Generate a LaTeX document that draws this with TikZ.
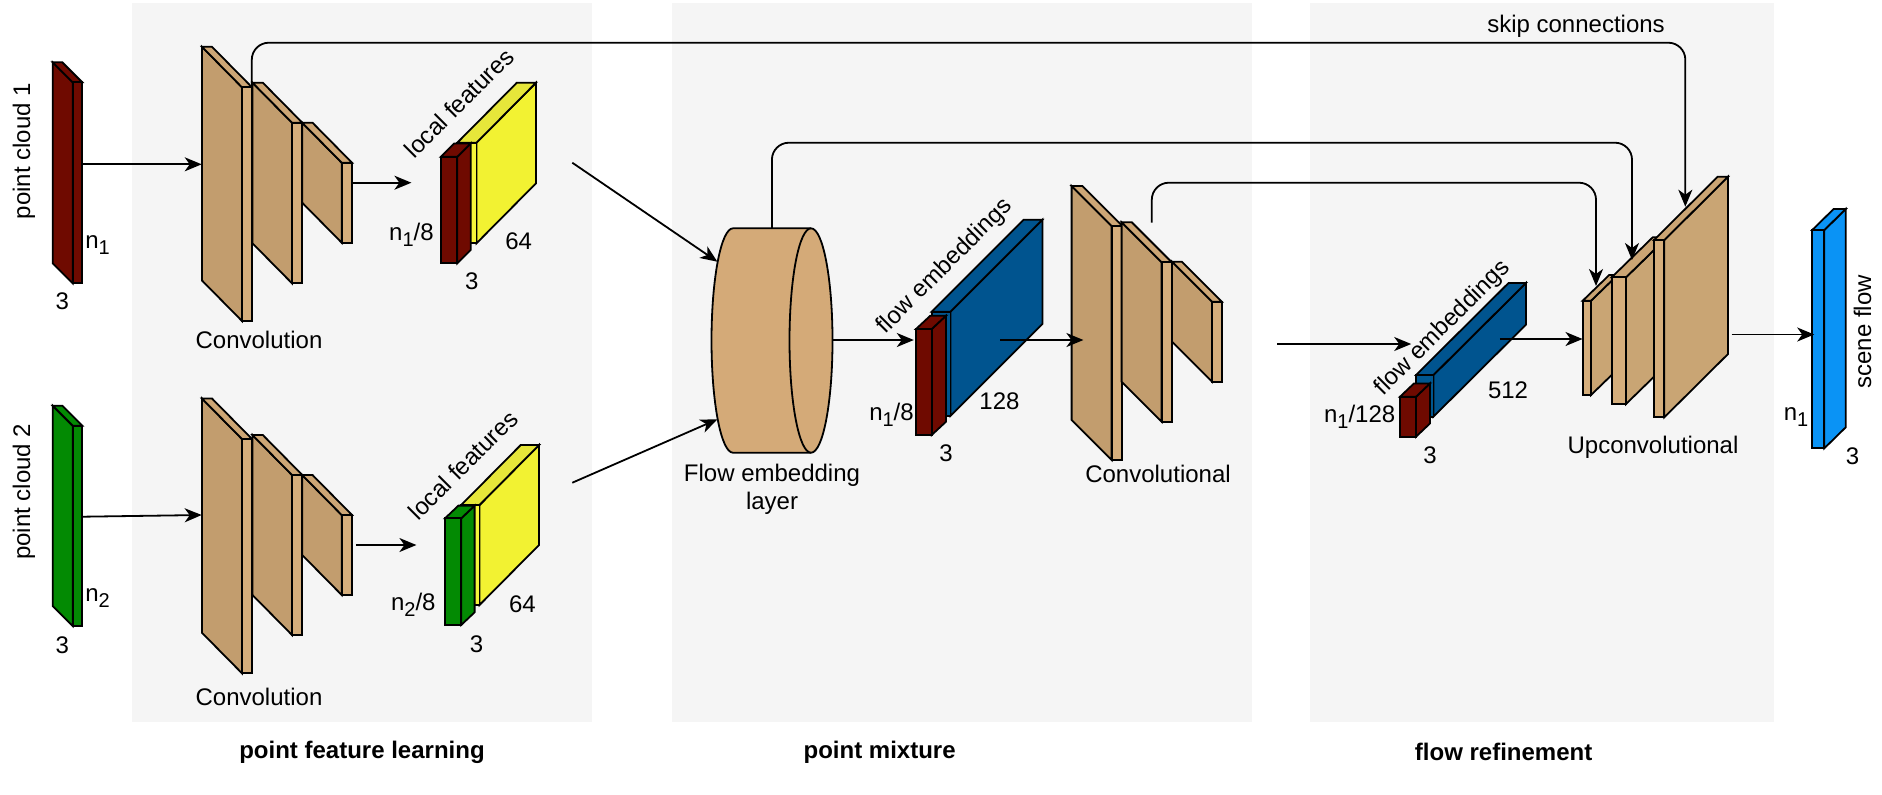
\documentclass[tikz,border=0pt]{standalone}
\usepackage{fontspec}
\setmainfont{Liberation Sans}
\usetikzlibrary{arrows.meta}
\definecolor{panelgray}{HTML}{F5F5F5}
\definecolor{tanF}{HTML}{D5AE7C}
\definecolor{tanS}{HTML}{C29D6E}
\definecolor{tanT}{HTML}{CDA675}
\definecolor{upF}{HTML}{D5AE7C}
\definecolor{upS}{HTML}{C9A574}
\definecolor{upT}{HTML}{CBA574}
\definecolor{cylF}{HTML}{D4AA78}
\definecolor{yelF}{HTML}{F5F53A}
\definecolor{yelS}{HTML}{F2F232}
\definecolor{yelT}{HTML}{E6E63A}
\definecolor{redF}{HTML}{6F0A00}
\definecolor{redS}{HTML}{6F0A00}
\definecolor{redT}{HTML}{6F0A00}
\definecolor{grnF}{HTML}{038A03}
\definecolor{grnS}{HTML}{038A03}
\definecolor{grnT}{HTML}{038A03}
\definecolor{bluF}{HTML}{00568F}
\definecolor{bluS}{HTML}{00548F}
\definecolor{bluT}{HTML}{00548F}
\definecolor{sfF}{HTML}{0A93F5}
\definecolor{sfS}{HTML}{0A93F5}
\definecolor{sfT}{HTML}{0A93F5}
\newcommand\sbs[1]{\raisebox{-0.45ex}{\fontsize{10}{10}\selectfont #1}}
% name, x1, y1, x2, y2, dx, dy, colour prefix
\newcommand\cuboid[8]{%
  \pgfmathsetmacro\cbsx{(#6<0)?#2:#4}%
  \filldraw[boxline, fill=#8S] (\cbsx,#3) -- ({\cbsx+#6},{#3+#7}) -- ({\cbsx+#6},{#5+#7}) -- (\cbsx,#5) -- cycle;
  \filldraw[boxline, fill=#8T] (#2,#3) -- ({#2+#6},{#3+#7}) -- ({#4+#6},{#3+#7}) -- (#4,#3) -- cycle;
  \filldraw[boxline, fill=#8F] (#2,#3) rectangle (#4,#5);
  \coordinate (#1) at ({(#2+#4)/2},{(#3+#5)/2});
}
\begin{document}
\begin{tikzpicture}[x=0.5pt,y=-0.5pt,
  font=\fontsize{12}{14}\selectfont,
  boxline/.style={draw=black, line width=0.9pt, line join=miter},
  arr/.style={draw=black, line width=0.9pt, -{Stealth[length=8.5pt,width=7pt,inset=2.5pt]}},
  lbl/.style={inner sep=0pt, text=black},
  blbl/.style={inner sep=0pt, font=\fontsize{12}{14}\selectfont\bfseries}]
\useasboundingbox (0,0) rectangle (1882,794);
% panels
\fill[panelgray] (132,3) rectangle (592,722);
\fill[panelgray] (672,3) rectangle (1251.6,722);
\fill[panelgray] (1309.6,3) rectangle (1773.9,722);
% point clouds
\cuboid{pc1}{72.7}{82.3}{82.3}{283.3}{-20}{-20}{red}
\cuboid{pc2}{72.7}{425.7}{82.3}{626}{-20}{-20}{grn}
% convolution stacks
\cuboid{c1a}{242}{87.3}{252}{321}{-40}{-40.5}{tan}
\cuboid{c1b}{292}{122.7}{302.3}{283.3}{-39.5}{-40}{tan}
\cuboid{c1c}{341.7}{162.7}{352}{242.7}{-39.5}{-40}{tan}
\cuboid{c2a}{242}{439}{252}{673.3}{-40}{-40.5}{tan}
\cuboid{c2b}{292}{475}{302.3}{635}{-39.5}{-40}{tan}
\cuboid{c2c}{341.7}{515}{352}{595}{-39.5}{-40}{tan}
% local features
\cuboid{lf1y}{457.3}{142.7}{476.5}{243.3}{59.5}{-60}{yel}
\cuboid{lf1r}{440.9}{156.7}{457.3}{263.3}{13.4}{-13.3}{red}
\cuboid{lf2y}{461.2}{505}{479.5}{605}{59.5}{-60}{yel}
\cuboid{lf2g}{445}{518.3}{461.2}{625}{13.4}{-12.7}{grn}
% flow embedding layer (cylinder)
\filldraw[boxline, fill=cylF] (733,228.3) arc[start angle=90, end angle=270, x radius=10.75pt, y radius=56.1pt]
  -- (811,452.7) arc[start angle=270, end angle=450, x radius=10.75pt, y radius=56.1pt] -- cycle;
\draw[boxline] (811,228.3) arc[start angle=90, end angle=270, x radius=10.75pt, y radius=56.1pt];
\coordinate (cyl) at (772,340.5);
% flow embeddings 1
\cuboid{fb1b}{931.7}{311.7}{950.4}{416}{92}{-92}{blu}
\cuboid{fb1r}{916}{329}{931.7}{435}{14.3}{-13.3}{red}
% convolutional stack
\cuboid{cma}{1111.6}{226}{1122.3}{460}{-40}{-40}{tan}
\cuboid{cmb}{1161.6}{262.3}{1171.8}{421.7}{-40}{-40}{tan}
\cuboid{cmc}{1212}{301.7}{1221.8}{381.7}{-40}{-40}{tan}
% flow embeddings 2
\cuboid{fb2b}{1416}{375}{1433.4}{416.7}{92.5}{-92}{blu}
\cuboid{fb2r}{1400}{396.7}{1416}{436.7}{14}{-13.3}{red}
% upconvolutional stack
\cuboid{up1}{1582.7}{300.7}{1591}{395}{26.5}{-25.7}{up}
\cuboid{up2}{1611.7}{277.3}{1626}{404}{41}{-40}{up}
\cuboid{up3}{1654}{240}{1664.3}{417.3}{63.7}{-63.3}{up}
% scene flow
\cuboid{sf}{1812.2}{230}{1824.3}{448.3}{21.4}{-21}{sf}
% connector end points
\coordinate (pc1o) at (82.3,164.3);  \coordinate (cv1i) at (201.7,164.3);
\coordinate (pc2o) at (82.3,516.7);  \coordinate (cv2i) at (201.7,515);
\coordinate (cv1o) at (352,182.7);   \coordinate (lf1i) at (411.4,182.7);
\coordinate (cv2o) at (355.9,545);   \coordinate (lf2i) at (416.4,545);
\coordinate (lf1o) at (572.3,162.7); \coordinate (fe1) at (717.4,261.7);
\coordinate (lf2o) at (572.3,482.7); \coordinate (fe2) at (717.4,419.3);
\coordinate (feo) at (832.1,340);    \coordinate (fbi) at (913.8,340);
\coordinate (fbo) at (1000,340);     \coordinate (cmi) at (1083.4,340);
\coordinate (cmo) at (1277.4,344);   \coordinate (fb2i) at (1411.2,344);
\coordinate (fb2o) at (1499.9,339);  \coordinate (upi) at (1582.5,339);
\coordinate (upo) at (1731.7,334.5); \coordinate (sfi) at (1814.2,334.5);
\coordinate (s1a) at (251.8,87.3);   \coordinate (s1b) at (1685.3,206.7); \coordinate (s1y) at (0,42.7);
\coordinate (s2a) at (771.9,228.3);  \coordinate (s2b) at (1632,260);     \coordinate (s2y) at (0,142.7);
\coordinate (s3a) at (1151.8,222.7); \coordinate (s3b) at (1596,286);     \coordinate (s3y) at (0,182.7);
% connectors
\draw[arr] (pc1o) -- (cv1i);
\draw[arr] (pc2o) -- (cv2i);
\draw[arr] (cv1o) -- (lf1i);
\draw[arr] (cv2o) -- (lf2i);
\draw[arr] (lf1o) -- (fe1);
\draw[arr] (lf2o) -- (fe2);
\draw[arr] (feo) -- (fbi);
\draw[arr] (fbo) -- (cmi);
\draw[arr] (cmo) -- (fb2i);
\draw[arr] (fb2o) -- (upi);
\draw[arr] (upo) -- (sfi);
\draw[arr, rounded corners=8.5pt] (s1a) -- (s1a |- s1y) -- (s1b |- s1y) -- (s1b);
\draw[arr, rounded corners=8.5pt] (s2a) -- (s2a |- s2y) -- (s2b |- s2y) -- (s2b);
\draw[arr, rounded corners=8.5pt] (s3a) -- (s3a |- s3y) -- (s3b |- s3y) -- (s3b);
% labels
\node[lbl, rotate=90] (tpc1) at (24,151) {point cloud 1};
\node[lbl] (tn1) at (97.6,245) {n\sbs{1}};
\node[lbl] (t31) at (62.4,301.7) {3};
\node[lbl, rotate=90] (tpc2) at (24,491.7) {point cloud 2};
\node[lbl] (tn2) at (97.6,598.3) {n\sbs{2}};
\node[lbl] (t32) at (62.4,645.7) {3};
\node[lbl] (tconv1) at (259,340) {Convolution};
\node[lbl] (tconv2) at (259,696.7) {Convolution};
\node[lbl, rotate=45] (tlf1) at (459,103) {local features};
\node[lbl] (tlf1n) at (411.4,235) {n\sbs{1}/8};
\node[lbl] (tlf164) at (518.6,241.7) {64};
\node[lbl] (tlf13) at (471.9,281.7) {3};
\node[lbl, rotate=45] (tlf2) at (463,465) {local features};
\node[lbl] (tlf2n) at (413.3,605) {n\sbs{2}/8};
\node[lbl] (tlf264) at (522.4,604) {64};
\node[lbl] (tlf23) at (476.5,644) {3};
\node[lbl, align=center] (tfel) at (772,489) {Flow embedding\\layer};
\node[lbl, rotate=45] (tfb1) at (945,266.7) {flow embeddings};
\node[lbl] (tfb1n) at (891.5,415) {n\sbs{1}/8};
\node[lbl] (tfb1c) at (999.5,401.7) {128};
\node[lbl] (tfb13) at (946,453.3) {3};
\node[lbl] (tconvl) at (1158,474) {Convolutional};
\node[lbl, rotate=45] (tfb2) at (1442.6,328.3) {flow embeddings};
\node[lbl] (tfb2n) at (1359.6,416.7) {n\sbs{1}/128};
\node[lbl] (tfb2c) at (1508,390) {512};
\node[lbl] (tfb23) at (1430,455) {3};
\node[lbl] (tupc) at (1653,447) {Upconvolutional};
\node[lbl, rotate=90] (tsf) at (1862.6,331.7) {scene flow};
\node[lbl] (tsfn) at (1796,416.7) {n\sbs{1}};
\node[lbl] (tsf3) at (1852.5,456.7) {3};
\node[lbl] (tskip) at (1576,26) {skip connections};
\node[blbl] (tpfl) at (362,752) {point feature learning};
\node[blbl] (tpm) at (879.6,752) {point mixture};
\node[blbl] (tfr) at (1503.6,752) {flow refinement};
\end{tikzpicture}
\end{document}
